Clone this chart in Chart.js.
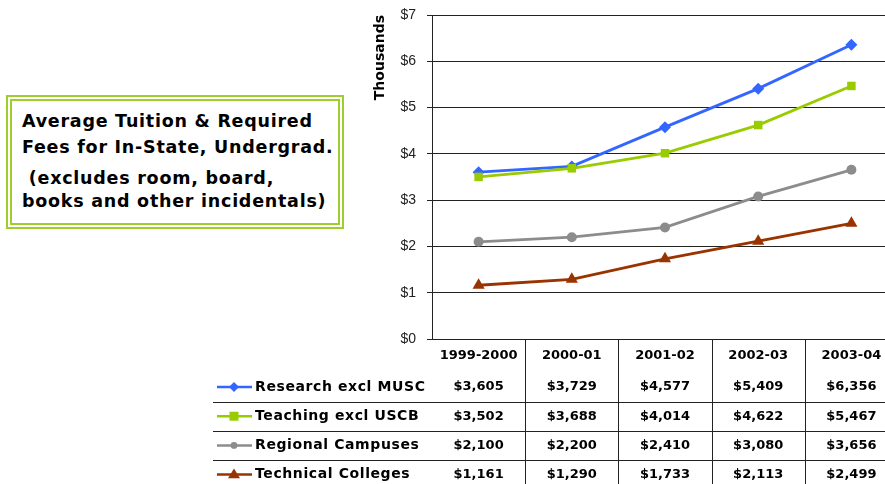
<!DOCTYPE html>
<html>
<head>
<meta charset="utf-8">
<script src="https://cdn.jsdelivr.net/npm/chart.js@4/dist/chart.umd.min.js"></script>
<style>
  html, body { margin:0; padding:0; width:885px; height:484px; overflow:hidden; background:#fff; }
  #wrap { position:relative; width:885px; height:484px; overflow:hidden; }
  #c { position:absolute; left:0; top:0; }
  #box { position:absolute; left:6px; top:95px; width:326px; height:122px; border:6px double #9fcc2e; background:#fff;
         font-family:"DejaVu Sans", sans-serif; font-weight:bold; font-size:17.5px; letter-spacing:0.75px; color:#000; }
  #box div { position:absolute; left:10px; white-space:pre; }
</style>
</head>
<body>
<div id="wrap">
  <canvas id="c" width="905" height="484"></canvas>
  <div id="box">
    <div style="top:10px">Average Tuition &amp; Required</div>
    <div style="top:36px">Fees for In-State, Undergrad.</div>
    <div style="top:67px"> (excludes room, board,</div>
    <div style="top:90px">books and other incidentals)</div>
  </div>
</div>
<script>
const categories = ['1999-2000', '2000-01', '2001-02', '2002-03', '2003-04'];
const seriesNames = ['Research excl MUSC', 'Teaching excl USCB', 'Regional Campuses', 'Technical Colleges'];
const research  = [3605, 3729, 4577, 5409, 6356];
const teaching  = [3502, 3688, 4014, 4622, 5467];
const regional  = [2100, 2200, 2410, 3080, 3656];
const technical = [1161, 1290, 1733, 2113, 2499];
const yTickValues = [0, 1, 2, 3, 4, 5, 6, 7];
const yAxisTitle = 'Thousands';

const seriesValues = [research, teaching, regional, technical];
const colors = ['#3366ff', '#99cc00', '#8c8c8c', '#993300'];
const styles = ['rectRot', 'rect', 'circle', 'triangle'];
const radii = [6, 6, 5, 7];
const orders = [1, 0, 3, 2];

function fmt(v) { return '$' + v.toLocaleString('en-US'); }

function drawMarker(ctx, style, x, y, r, color) {
  ctx.save();
  ctx.fillStyle = color;
  ctx.beginPath();
  if (style === 'rectRot') {
    ctx.moveTo(x, y - r); ctx.lineTo(x + r, y); ctx.lineTo(x, y + r); ctx.lineTo(x - r, y);
  } else if (style === 'rect') {
    const s = r * 0.9;
    ctx.rect(x - s, y - s, 2 * s, 2 * s);
  } else if (style === 'circle') {
    ctx.arc(x, y, r * 0.85, 0, Math.PI * 2);
  } else {
    ctx.moveTo(x, y - r); ctx.lineTo(x + r, y + r * 0.6); ctx.lineTo(x - r, y + r * 0.6);
  }
  ctx.closePath();
  ctx.fill();
  ctx.restore();
}

const tablePlugin = {
  id: 'dataTable',
  afterDraw(chart) {
    const ctx = chart.ctx;
    const xs = chart.scales.x;
    const area = chart.chartArea;
    const centers = categories.map((c, i) => xs.getPixelForValue(i));
    const half = (centers[1] - centers[0]) / 2;
    const H = chart.height;
    const headerY = area.bottom + 17;
    const rowY0 = area.bottom + 48;
    const rowH = 29.2;
    ctx.save();
    ctx.strokeStyle = '#222';
    ctx.lineWidth = 1;
    for (let i = 0; i < centers.length; i++) {
      const bx = Math.round(centers[i] + half) + 0.5;
      ctx.beginPath(); ctx.moveTo(bx, area.bottom); ctx.lineTo(bx, H); ctx.stroke();
    }
    for (let r = 0; r < seriesNames.length - 1; r++) {
      const ly = Math.round(rowY0 + rowH * r + rowH / 2) + 0.5;
      ctx.beginPath(); ctx.moveTo(213, ly); ctx.lineTo(chart.width, ly); ctx.stroke();
    }
    ctx.fillStyle = '#000';
    ctx.textBaseline = 'middle';
    ctx.font = 'bold 13px "DejaVu Sans"';
    ctx.textAlign = 'center';
    categories.forEach((c, i) => ctx.fillText(c, centers[i], headerY));
    seriesNames.forEach((name, r) => {
      const y = rowY0 + rowH * r;
      ctx.save();
      ctx.strokeStyle = colors[r];
      ctx.lineWidth = 2.5;
      ctx.beginPath(); ctx.moveTo(217, y); ctx.lineTo(252, y); ctx.stroke();
      ctx.restore();
      drawMarker(ctx, styles[r], 234, y, radii[r] - 1, colors[r]);
      ctx.textAlign = 'left';
      ctx.font = 'bold 14px "DejaVu Sans"';
      ctx.save();
      if ('letterSpacing' in ctx) ctx.letterSpacing = '0.6px';
      ctx.fillText(name, 255, y);
      ctx.restore();
      ctx.textAlign = 'center';
      ctx.font = 'bold 13px "DejaVu Sans"';
      seriesValues[r].forEach((v, i) => ctx.fillText(fmt(v), centers[i], y));
    });
    ctx.restore();
  }
};

const datasets = seriesNames.map((name, k) => ({
  label: name,
  data: seriesValues[k].map(v => v / 1000),
  borderColor: colors[k],
  backgroundColor: colors[k],
  borderWidth: 2.8,
  pointStyle: styles[k],
  pointRadius: radii[k],
  pointBorderWidth: 0,
  pointBackgroundColor: colors[k],
  tension: 0,
  order: orders[k]
}));

new Chart(document.getElementById('c'), {
  type: 'line',
  data: { labels: categories, datasets },
  options: {
    responsive: false,
    animation: false,
    devicePixelRatio: 1,
    layout: { padding: { left: 368, right: 0, top: 15, bottom: 145 } },
    plugins: { legend: { display: false }, tooltip: { enabled: false }, title: { display: false } },
    scales: {
      x: {
        type: 'category',
        offset: true,
        grid: { display: false, drawTicks: false },
        ticks: { display: false },
        border: { display: true, color: '#222', width: 1 },
        afterFit(scale) { scale.height = 0; }
      },
      y: {
        min: 0, max: 7,
        afterBuildTicks(scale) { scale.ticks = yTickValues.map(v => ({ value: v })); },
        ticks: {
          padding: 11,
          color: '#222',
          font: { family: '"Liberation Sans"', size: 14 },
          callback: v => '$' + v
        },
        grid: { color: '#222', lineWidth: 1, tickLength: 5, drawTicks: true },
        border: { display: true, color: '#222', width: 1 },
        title: {
          display: true, text: yAxisTitle, align: 'end',
          color: '#000', font: { family: '"DejaVu Sans"', size: 14, weight: 'bold' },
          padding: { top: 4, bottom: 0 }
        },
        afterFit(scale) { scale.width = 64; scale.paddingTop = 4; scale.paddingBottom = 4; }
      }
    }
  },
  plugins: [tablePlugin]
});
</script>
</body>
</html>
